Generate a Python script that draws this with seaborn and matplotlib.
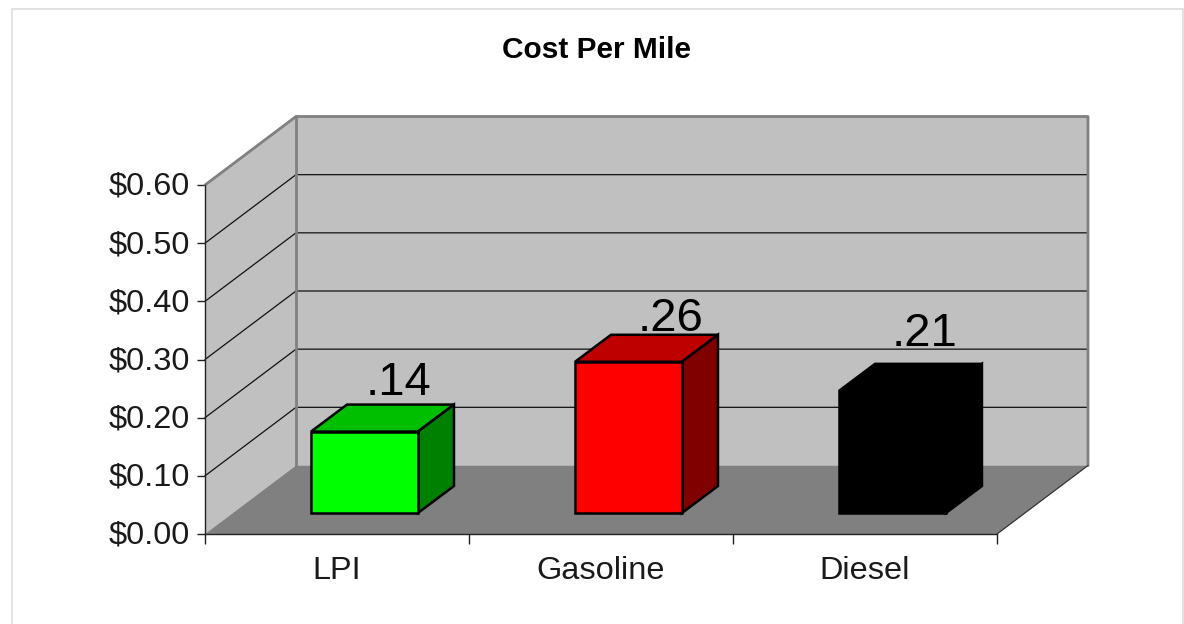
import numpy as np
import pandas as pd
import matplotlib
matplotlib.use('Agg')
import matplotlib.pyplot as plt
import seaborn as sns
from matplotlib.patches import Polygon, Rectangle
from matplotlib.transforms import Affine2D, IdentityTransform

# data
categories = ['LPI', 'Gasoline', 'Diesel']
cost_per_mile = [0.14, 0.26, 0.21]
y_ticks = [0.0, 0.1, 0.2, 0.3, 0.4, 0.5, 0.6]

front_colors = ['#00FF00', '#FF0000', '#000000']
top_colors = ['#00BF00', '#BF0000', '#000000']
side_colors = ['#008000', '#800000', '#000000']

# fake 3d, all in pixels
WALL_DX, WALL_DY = 91, 68.5
BAR_OFF_DX, BAR_OFF_DY = 27.5, 21
BAR_DX, BAR_DY = 36, 27
label_offsets = [(33.5, 37), (42, 31), (32, 45)]

sns.set_theme(style='white')
plt.rcParams['font.family'] = ['Liberation Sans', 'DejaVu Sans']

W, H = 1184, 624
fig = plt.figure(figsize=(W / 100, H / 100), dpi=100, facecolor='white')
ax = fig.add_axes([205 / W, 1 - 534 / H, (997 - 205) / W, (534 - 185) / H])
ax.patch.set_alpha(0)

df = pd.DataFrame({'fuel': categories, 'cost': cost_per_mile})
sns.barplot(data=df, x='fuel', y='cost', hue='fuel', order=categories, hue_order=categories,
            palette=front_colors, width=0.405, legend=False, saturation=1,
            edgecolor='black', linewidth=1.8, zorder=6, ax=ax)

ax.set_xlim(-0.5, 2.5)
ax.set_ylim(0, 0.6)
ax.set_xlabel('')
ax.set_ylabel('')
ax.set_yticks(y_ticks)
ax.set_yticklabels([f'${v:.2f}' for v in y_ticks])
ax.set_xticks(range(len(categories)))
ax.set_xticklabels(categories)
ax.set_xticks([-0.5, 0.5, 1.5, 2.5], minor=True)
ax.tick_params(axis='x', which='major', length=0, pad=16, labelsize=23.4, colors='#1a1a1a')
ax.tick_params(axis='x', which='minor', length=7, width=1, color='#222222', bottom=True)
ax.tick_params(axis='y', length=6, width=1, color='#222222', left=True, pad=5, labelsize=23.4,
               labelcolor='#1a1a1a')
for label in ax.get_yticklabels():
    label.set_transform(label.get_transform() + Affine2D().translate(0, 1.5))

sns.despine(ax=ax)
for side in ['left', 'bottom']:
    ax.spines[side].set_color('#222222')
    ax.spines[side].set_linewidth(1)
    ax.spines[side].set_zorder(5)

fig.canvas.draw()
pixel = IdentityTransform()


def px(x, y, dx=0, dy=0):
    return ax.transData.transform((x, y)) + np.array([dx, dy])


def face(points, **kw):
    kw.setdefault('linewidth', 0)
    ax.add_patch(Polygon(points, closed=True, transform=pixel, clip_on=False, **kw))


# walls and floor
x0, x1, top = -0.5, 2.5, y_ticks[-1]
face([px(x0, 0), px(x0, 0, WALL_DX, WALL_DY), px(x1, 0, WALL_DX, WALL_DY),
      px(x1, top, WALL_DX, WALL_DY), px(x0, top, WALL_DX, WALL_DY), px(x0, top)],
     facecolor='#C0C0C0', zorder=1)
face([px(x0, 0), px(x1, 0), px(x1, 0, WALL_DX, WALL_DY), px(x0, 0, WALL_DX, WALL_DY)],
     facecolor='#808080', zorder=2)

# gridlines, side wall then back wall
for v in y_ticks[1:-1]:
    pts = np.array([px(x0, v), px(x0, v, WALL_DX, WALL_DY), px(x1, v, WALL_DX, WALL_DY)])
    ax.plot(pts[:, 0], pts[:, 1], color='#111111', lw=0.9, transform=pixel, clip_on=False, zorder=3)

# wall edges
edge = np.array([px(x0, top), px(x0, top, WALL_DX, WALL_DY), px(x1, top, WALL_DX, WALL_DY),
                 px(x1, 0, WALL_DX, WALL_DY)])
ax.plot(edge[:, 0], edge[:, 1], color='#808080', lw=2, transform=pixel, clip_on=False, zorder=3)
edge = np.array([px(x0, top, WALL_DX, WALL_DY), px(x0, 0, WALL_DX, WALL_DY)])
ax.plot(edge[:, 0], edge[:, 1], color='#808080', lw=2, transform=pixel, clip_on=False, zorder=3)
edge = np.array([px(x1, 0), px(x1, 0, WALL_DX, WALL_DY)])
ax.plot(edge[:, 0], edge[:, 1], color='#333333', lw=0.9, transform=pixel, clip_on=False, zorder=3)

# bars: move the seaborn front face back, then add top and side
shift = ax.transData + Affine2D().translate(BAR_OFF_DX, BAR_OFF_DY)
for i, bar in enumerate(ax.patches[:len(categories)]):
    bar.set_transform(shift)
    bar.set_clip_on(False)
    bx0, bx1, h = bar.get_x(), bar.get_x() + bar.get_width(), bar.get_height()
    a = px(bx0, h, BAR_OFF_DX, BAR_OFF_DY)
    b = px(bx1, h, BAR_OFF_DX, BAR_OFF_DY)
    c = px(bx1, 0, BAR_OFF_DX, BAR_OFF_DY)
    d = np.array([BAR_DX, BAR_DY])
    face([a, b, b + d, a + d], facecolor=top_colors[i], edgecolor='black', linewidth=1.8, zorder=5)
    face([b, c, c + d, b + d], facecolor=side_colors[i], edgecolor='black', linewidth=1.8, zorder=5)

    # value label
    mid = px(i, h, BAR_OFF_DX, BAR_OFF_DY)
    ax.text(mid[0] + label_offsets[i][0], mid[1] + label_offsets[i][1],
            f'{cost_per_mile[i]:.2f}'.lstrip('0'), transform=pixel, ha='center', va='baseline',
            fontsize=34, color='black', zorder=7, clip_on=False)

fig.text(596 / W, 1 - 58 / H, 'Cost Per Mile', ha='center', va='baseline', fontsize=21.5,
         fontweight='bold', color='black')

# chart area border
fig.add_artist(Rectangle((11.5, -10), 1171, H + 10 - 8.5, transform=pixel, fill=False,
                         edgecolor='#E2E2E2', linewidth=1.4))

fig.savefig('out.png', dpi=100)
